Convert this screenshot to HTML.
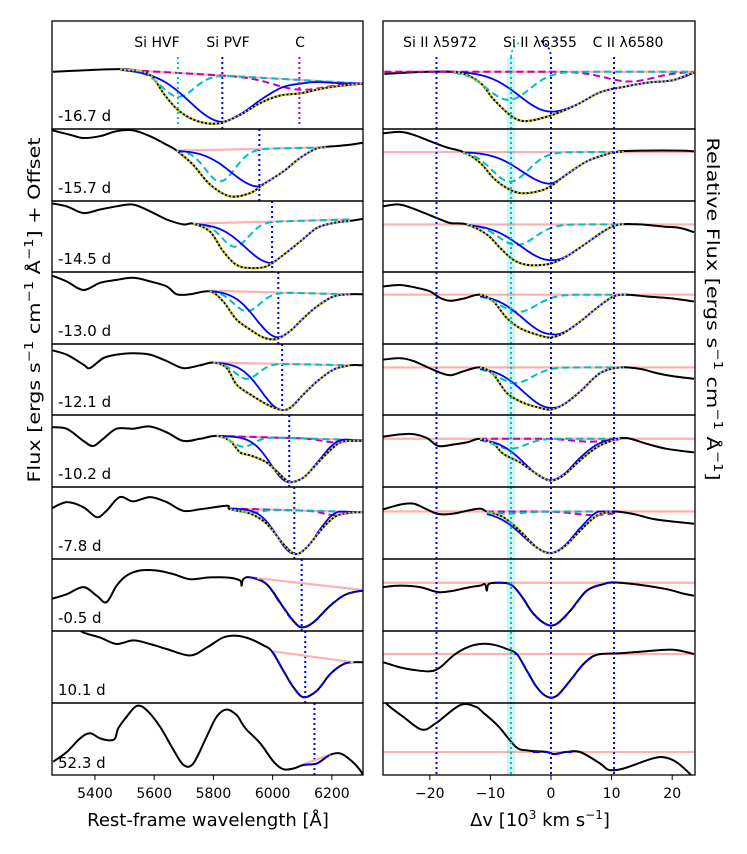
<!DOCTYPE html>
<html><head><meta charset="utf-8">
<style>
html,body{margin:0;padding:0;background:#fff;}
svg{display:block;font-family:"DejaVu Sans","Liberation Sans",sans-serif;}
</style></head>
<body>
<svg id="fig" width="747" height="854" viewBox="0 0 747 854" xmlns="http://www.w3.org/2000/svg">
<defs id="defs"></defs>
<g id="content"></g>
<text transform="translate(40,310) rotate(-90)" text-anchor="middle" font-size="17" textLength="345" lengthAdjust="spacingAndGlyphs">Flux [ergs s<tspan dy="-7" font-size="12">−1</tspan><tspan dy="7"> cm</tspan><tspan dy="-7" font-size="12">−1</tspan><tspan dy="7"> Å</tspan><tspan dy="-7" font-size="12">−1</tspan><tspan dy="7">] + Offset</tspan></text>
<text transform="translate(707,309) rotate(90)" text-anchor="middle" font-size="17" textLength="343" lengthAdjust="spacingAndGlyphs">Relative Flux [ergs s<tspan dy="-7" font-size="12">−1</tspan><tspan dy="7"> cm</tspan><tspan dy="-7" font-size="12">−1</tspan><tspan dy="7"> Å</tspan><tspan dy="-7" font-size="12">−1</tspan><tspan dy="7">]</tspan></text>
<text x="208" y="826" text-anchor="middle" font-size="18">Rest-frame wavelength [Å]</text>
<text x="540" y="826" text-anchor="middle" font-size="18">Δv [10<tspan dy="-7" font-size="12">3</tspan><tspan dy="7"> km s</tspan><tspan dy="-7" font-size="12">−1</tspan><tspan dy="7">]</tspan></text>
<text x="157" y="47" text-anchor="middle" font-size="14">Si HVF</text>
<text x="228" y="47" text-anchor="middle" font-size="14">Si PVF</text>
<text x="300" y="47" text-anchor="middle" font-size="14">C</text>
<text x="440" y="47" text-anchor="middle" font-size="14">Si II λ5972</text>
<text x="540" y="47" text-anchor="middle" font-size="14">Si II λ6355</text>
<text x="628" y="47" text-anchor="middle" font-size="14">C II λ6580</text>
</svg>
<script>
const epochs = ["-16.7 d","-15.7 d","-14.5 d","-13.0 d","-12.1 d","-10.2 d","-7.8 d","-0.5 d","10.1 d","52.3 d"];
const leftTicks = [5400,5600,5800,6000,6200];
const rightTicks = [-20,-10,0,10,20];
const refVel = [-18.9,0,10.4];
const hvfVel = -6.6;
const leftWave = [
[5258,5417,5518,5586,5637,5687,5755,5823,5890,5958,6025,6093,6160,6228,6306],
[5248,5316,5361,5417,5473,5529,5586,5642,5676,5732,5788,5856,5924,5968,6036,6093,6149,6205,6261,6306],
[5248,5304,5361,5417,5473,5529,5586,5642,5698,5732,5788,5833,5878,5924,5980,6036,6093,6149,6205,6261,6306],
[5248,5304,5361,5417,5473,5529,5586,5642,5676,5721,5788,5833,5878,5924,5969,6014,6059,6104,6149,6205,6261,6306],
[5248,5304,5361,5383,5428,5473,5529,5586,5642,5698,5755,5800,5845,5878,5924,5980,6025,6059,6104,6149,6205,6261,6306],
[5248,5304,5361,5394,5428,5473,5529,5586,5642,5698,5755,5811,5856,5890,5924,5980,6036,6059,6104,6149,6205,6239,6306],
[5248,5304,5361,5406,5439,5484,5529,5586,5642,5698,5755,5845,5856,5924,5980,6036,6076,6115,6171,6216,6261,6306],
[5248,5304,5361,5406,5439,5473,5507,5552,5608,5665,5721,5788,5856,5890,5895,5901,5924,5980,6036,6070,6098,6137,6194,6239,6273,6306],
[5315,5361,5417,5473,5529,5586,5642,5721,5777,5833,5878,5924,5969,5997,6036,6070,6104,6149,6194,6239,6273,6306],
[5259,5305,5350,5383,5417,5451,5468,5479,5507,5541,5575,5620,5665,5699,5732,5777,5811,5845,5879,5896,5913,5958,6003,6036,6070,6104,6149,6194,6228,6262,6295,6310]];
const leftFlux = [
[.53,.55,.55,.50,.31,.16,.065,.055,.13,.24,.31,.33,.37,.40,.42],
[.99,.92,.875,.90,.97,.98,.90,.78,.70,.50,.23,.065,.11,.23,.41,.60,.73,.76,.78,.81],
[.97,.925,.83,.88,.925,.95,.855,.74,.67,.68,.57,.29,.10,.056,.08,.24,.43,.62,.69,.72,.75],
[.96,.87,.75,.85,.89,.92,.87,.80,.69,.69,.73,.59,.34,.20,.09,.07,.18,.36,.52,.66,.69,.69],
[.92,.85,.71,.66,.80,.85,.87,.85,.76,.66,.70,.74,.66,.43,.29,.15,.075,.10,.29,.47,.64,.70,.70],
[.83,.81,.64,.57,.67,.81,.81,.84,.76,.64,.67,.71,.64,.48,.44,.34,.13,.065,.13,.32,.55,.63,.64],
[.69,.79,.72,.58,.67,.86,.80,.86,.79,.67,.69,.74,.69,.63,.49,.21,.07,.16,.44,.60,.64,.65],
[.44,.51,.61,.49,.40,.63,.77,.84,.84,.79,.72,.745,.74,.70,.63,.72,.745,.65,.33,.14,.05,.12,.35,.49,.54,.56],
[1.1,.98,.91,.82,.87,.82,.75,.66,.77,.91,.935,.89,.80,.72,.45,.22,.08,.17,.40,.54,.565,.565],
[.185,.32,.51,.58,.51,.48,.51,.65,.81,.96,.90,.67,.35,.14,.16,.53,.81,.91,.83,.72,.625,.44,.185,.08,.09,.14,.16,.28,.30,.21,.07,-.05]];
const rightVel = [
[-27.5,-20,-15.0,-11.7,-9.4,-6.3,-3.8,0.2,4.1,8.1,12.0,16.0,20.0,23.6],
[-27.65,-24.9,-22.7,-19.95,-17.2,-14.45,-11.7,-9.5,-7.3,-5.1,-2.35,-0.15,2.6,5.9,9.2,11.4,15.8,21.3,23.6],
[-27.65,-24.9,-21.6,-18.85,-16.65,-13.9,-10.6,-8.4,-6.2,-4.0,-1.25,0.4,2.6,5.9,9.2,11.4,14.7,18.55,21.3,23.6],
[-27.65,-24.9,-22.15,-19.95,-18.3,-16.65,-14.45,-11.7,-9.5,-7.3,-5.1,-2.35,-0.15,2.05,4.8,7.55,10.3,12.5,15.8,20.2,23.6],
[-27.65,-24.9,-22.7,-18.85,-16.65,-14.45,-11.7,-9.5,-7.3,-4.55,-1.8,-0.15,2.05,4.8,8.1,11.4,14.7,17.45,20.2,23.6],
[-27.65,-24.9,-22.7,-20.5,-18.6,-16.1,-13.9,-11.7,-9.5,-7.85,-5.1,-2.35,-0.15,2.05,4.8,7.55,10.3,12.5,15.8,19.1,23.6],
[-27.65,-24.9,-22.7,-20.5,-18.6,-16.1,-13.9,-11.7,-10.6,-7.85,-5.1,-2.35,-0.15,2.05,4.8,7.55,10.3,13.6,16.9,20.2,23.6],
[-27.65,-24.9,-21.6,-18.6,-16.1,-13.35,-11.7,-10.9,-10.6,-10.3,-8.95,-6.75,-5.1,-2.9,-0.7,0.95,3.15,5.9,8.65,10.3,14.7,19.1,21.85,23.6],
[-27.65,-24.9,-22.7,-19.95,-18.3,-16.1,-13.9,-11.7,-9.5,-7.3,-5.65,-4.0,-2.35,-0.7,0.95,3.15,5.35,7.55,11.4,15.8,20.2,23.6],
[-27.6,-26.9,-24.4,-21.3,-19.0,-15.0,-12.5,-11.1,-8.6,-5.8,-3.8,-0.7,0.5,2.5,4.8,8.1,9.6,12.0,16.0,18.3,20.6,23.1,24]];
const rightFlux = [
[.51,.53,.52,.43,.27,.11,.074,.13,.22,.34,.39,.43,.45,.52],
[.94,.96,.92,.83,.745,.68,.53,.32,.18,.11,.13,.20,.37,.55,.65,.69,.70,.70,.69],
[.925,.95,.855,.76,.69,.67,.53,.34,.17,.10,.10,.13,.22,.41,.60,.67,.67,.64,.62,.56],
[.80,.82,.78,.73,.64,.60,.63,.685,.59,.36,.22,.13,.09,.15,.31,.50,.66,.685,.66,.63,.59],
[.78,.80,.76,.615,.56,.615,.67,.57,.31,.17,.10,.075,.145,.33,.59,.67,.65,.59,.545,.51],
[.70,.73,.735,.68,.57,.59,.62,.67,.60,.46,.34,.18,.09,.16,.37,.55,.65,.68,.60,.53,.48],
[.69,.755,.77,.69,.625,.63,.67,.70,.66,.58,.39,.16,.08,.16,.39,.60,.66,.625,.555,.52,.49],
[.61,.63,.61,.54,.56,.61,.63,.65,.56,.65,.67,.65,.51,.24,.09,.10,.28,.56,.65,.675,.64,.58,.52,.49],
[.565,.495,.46,.44,.495,.66,.77,.82,.81,.75,.68,.45,.22,.09,.10,.31,.54,.67,.69,.72,.74,.68],
[1.05,.97,.81,.63,.72,.97,.95,.86,.67,.39,.34,.32,.29,.32,.32,.16,.07,.09,.21,.25,.185,.0,-.1]];
/* left fit: continuum [w0,f0,w1,f1], components [center, depth, sigma] */
const leftCont = [[5485,.55,6306,.42],[5676,.70,6180,.745],[5732,.68,6261,.74],[5788,.74,6261,.69],[5800,.74,6261,.70],[5811,.71,6306,.65],[5856,.70,6306,.65],[5924,.745,6306,.57],[5997,.72,6273,.565],[6104,.15,6194,.28]];
const leftHVF = [[5680,.22,55],[5823,.44,50],[5873,.34,45],[5912,.27,45],[5912,.22,40],[5901,.14,35],[5924,.05,35],null,null,null];
const leftC = [[6090,.09,85],null,null,null,null,[6205,.04,40],[6205,.05,35],null,null,null];
const leftMarker = [5830,5955,5998,6019,6032,6056,6073,6098,6110,6141];
const leftPVFSigma = [110,95,90,75,70,62,58,50,45,20];
const rightCont = [.53,.68,.67,.685,.67,.67,.66,.67,.68,.32];
const rightRange = [[-16,23.6],[-14.5,12],[-13.9,12],[-11.7,12.5],[-11.7,12],[-11.7,11.5],[-10.6,10.3],[-9,10.3],[-6,7],[-3,4]];
const rightHVF = [[-7,.26,3.5],[-6.75,.41,3],[-5.65,.29,3],[-5.4,.24,3],[-5.9,.22,2.8],[-6.75,.14,2.5],[-7,.03,2.5],null,null,null];
const rightC = [[13,.09,4],null,null,null,null,[6.4,.04,3],[7,.05,3],null,null,null];
const rightPVFSigma = [5.2,4.8,5.0,4.6,4.5,4.3,4.5,4,3.8,2];

const NS = "http://www.w3.org/2000/svg";
const LX0 = 52, LX1 = 363, RX0 = 383, RX1 = 695;
const rowY = [21,129,201,272,344,415,487,559,631,703,775];
const lxScale = w => LX0 + (w - 5255) * (LX1 - LX0) / (6305 - 5255);
const rxScale = v => 551 + v * 6.06;
const yScale = (i, f) => rowY[i+1] - f * (rowY[i+1] - rowY[i]);
const content = document.getElementById("content");
const defs = document.getElementById("defs");

function mk(tag, attrs, parent) {
  const e = document.createElementNS(NS, tag);
  for (const k in attrs) e.setAttribute(k, attrs[k]);
  (parent || content).appendChild(e);
  return e;
}
function smooth(pts) {
  if (pts.length < 2) return "";
  let d = "M" + pts[0][0].toFixed(1) + "," + pts[0][1].toFixed(1);
  for (let i = 0; i < pts.length - 1; i++) {
    const p0 = pts[Math.max(0, i-1)], p1 = pts[i], p2 = pts[i+1], p3 = pts[Math.min(pts.length-1, i+2)];
    const c1x = p1[0] + (p2[0]-p0[0])/6, c1y = p1[1] + (p2[1]-p0[1])/6;
    const c2x = p2[0] - (p3[0]-p1[0])/6, c2y = p2[1] - (p3[1]-p1[1])/6;
    d += "C" + c1x.toFixed(1) + "," + c1y.toFixed(1) + " " + c2x.toFixed(1) + "," + c2y.toFixed(1) + " " + p2[0].toFixed(1) + "," + p2[1].toFixed(1);
  }
  return d;
}
function gauss(x, c) { return c ? c[1] * Math.exp(-((x - c[0]) ** 2) / (2 * c[2] * c[2])) : 0; }
function curve(x0, x1, fn, xs, i, n) {
  const pts = [];
  for (let k = 0; k <= n; k++) { const x = x0 + (x1 - x0) * k / n; pts.push([xs(x), yScale(i, fn(x))]); }
  return pts;
}
function line(pts) { return "M" + pts.map(p => p[0].toFixed(1) + "," + p[1].toFixed(1)).join("L"); }
function sampler(xsArr, ysArr) {
  return x => {
    let k = 0;
    while (k < xsArr.length - 2 && x > xsArr[k+1]) k++;
    const x1 = xsArr[k], x2 = xsArr[k+1];
    const t = Math.max(0, Math.min(1, (x - x1) / (x2 - x1)));
    const y0 = ysArr[Math.max(0,k-1)], y1 = ysArr[k], y2 = ysArr[k+1], y3 = ysArr[Math.min(ysArr.length-1,k+2)];
    return 0.5*((2*y1) + (-y0+y2)*t + (2*y0-5*y1+4*y2-y3)*t*t + (-y0+3*y1-3*y2+y3)*t*t*t);
  };
}

function drawFit(g, i, x0, x1, contF, hvf, cc, dataF, xs, full, center, sigma) {
  const N = 100;
  const dep = contF(center) - (dataF(center) + gauss(center, hvf) + gauss(center, cc));
  const pvfF = x => x < center ? contF(x) - dep * Math.exp(-((x-center)**2)/(2*sigma*sigma))
                                : Math.min(contF(x), dataF(x) + gauss(x, hvf) + gauss(x, cc));
  if (full) {
    if (cc) {
      const c = mk("path", {d: line(curve(x0, x1, x => contF(x) - gauss(x, cc), xs, i, N)), stroke: "#bf00bf", "stroke-width": 2, "stroke-dasharray": "7,4", fill: "none"}, g);
      
      
    }
    if (hvf) {
      const h = mk("path", {d: line(curve(x0, x1, x => contF(x) - gauss(x, hvf), xs, i, N)), stroke: "#00bfbf", "stroke-width": 2, "stroke-dasharray": "7,4", fill: "none"}, g);
      
      
    }
    const p = mk("path", {d: line(curve(x0, x1, pvfF, xs, i, N)), stroke: "#0000ff", "stroke-width": 1.8, fill: "none"}, g);
    
    
    const f = mk("path", {d: line(curve(x0, x1, x => Math.min(contF(x), dataF(x)), xs, i, N)), stroke: "#d0d000", "stroke-width": 2, "stroke-dasharray": "2,2", fill: "none"}, g);
    
    
  } else {
    const p = mk("path", {d: line(curve(x0, x1, x => Math.min(contF(x), dataF(x)), xs, i, N)), stroke: "#0000ff", "stroke-width": 2, "stroke-dasharray": "7,4", fill: "none"}, g);
    
    
  }
}

for (let i = 0; i < 10; i++) {
  ["L","R"].forEach(side => {
    const cp = mk("clipPath", {id: "clip" + side + i}, defs);
    mk("rect", {x: side === "L" ? LX0 : RX0, y: rowY[i], width: side === "L" ? LX1-LX0 : RX1-RX0, height: rowY[i+1]-rowY[i]}, cp);
  });
  // ---------- left panel ----------
  const gl = mk("g", {"clip-path": "url(#clipL" + i + ")"});
  
  
  const m = leftMarker[i];
  const mTop = i === 0 ? 57 : rowY[i];
  const mv = mk("line", {x1: lxScale(m), x2: lxScale(m), y1: mTop, y2: rowY[i+1], stroke: "#0000ff", "stroke-width": 2, "stroke-dasharray": "2,3"}, gl);
  
  
  const sp = mk("path", {d: smooth(leftWave[i].map((w, k) => [lxScale(w), yScale(i, leftFlux[i][k])])), fill: "none", stroke: "#000", "stroke-width": 2}, gl);
  
  
  const lc = leftCont[i];
  const contF = w => lc[1] + (lc[3]-lc[1]) * (w - lc[0]) / (lc[2]-lc[0]);
  const cl = mk("path", {d: line([[lxScale(lc[0]), yScale(i, lc[1])], [lxScale(lc[2]), yScale(i, lc[3])]]), stroke: "#ffb0b0", "stroke-width": 2.2, fill: "none"}, gl);
  
  
  drawFit(gl, i, lc[0], lc[2], contF, leftHVF[i], leftC[i], sampler(leftWave[i], leftFlux[i]), lxScale, i < 7, leftMarker[i], leftPVFSigma[i]);
  if (i === 0) {
    const hv = mk("line", {x1: lxScale(5680), x2: lxScale(5680), y1: 57, y2: 127, stroke: "#00bfbf", "stroke-width": 2, "stroke-dasharray": "2,3"}, gl);
    
    
    const cv = mk("line", {x1: lxScale(6090), x2: lxScale(6090), y1: 57, y2: 127, stroke: "#bf00bf", "stroke-width": 2, "stroke-dasharray": "2,3"}, gl);
    
    
  }
  const lb = mk("text", {x: 58, y: rowY[i+1] - (i === 9 ? 7 : 8), "font-size": 15});
  lb.textContent = epochs[i];
  
  

  // ---------- right panel ----------
  const gr = mk("g", {"clip-path": "url(#clipR" + i + ")"});
  
  
  const rc = rightCont[i];
  const rcl = mk("line", {x1: RX0, x2: RX1, y1: yScale(i, rc), y2: yScale(i, rc), stroke: "#ffb0b0", "stroke-width": 2.2}, gr);
  
  
  const rsp = mk("path", {d: smooth(rightVel[i].map((v, k) => [rxScale(v), yScale(i, rightFlux[i][k])])), fill: "none", stroke: "#000", "stroke-width": 2}, gr);
  
  
  const rr = rightRange[i];
  if (i === 0) {
    const cc = mk("path", {d: line(curve(-27.5, 23.6, v => rc - gauss(v, rightC[0]), rxScale, 0, 90)), stroke: "#bf00bf", "stroke-width": 2, "stroke-dasharray": "7,4", fill: "none"}, gr);
    
    
  }
  drawFit(gr, i, rr[0], rr[1], () => rc, rightHVF[i], i === 0 ? null : rightC[i], sampler(rightVel[i], rightFlux[i]), rxScale, i < 7, 0, rightPVFSigma[i]);
}
// right-panel reference lines across all rows
const band = mk("rect", {x: rxScale(hvfVel - 0.7), y: 57, width: rxScale(hvfVel + 0.7) - rxScale(hvfVel - 0.7), height: 775 - 57, fill: "#00bfbf", opacity: 0.18});


const hvl = mk("line", {x1: rxScale(hvfVel), x2: rxScale(hvfVel), y1: 57, y2: 775, stroke: "#00bfbf", "stroke-width": 2, "stroke-dasharray": "2,3"});


refVel.forEach(v => {
  const l = mk("line", {x1: rxScale(v), x2: rxScale(v), y1: 57, y2: 775, stroke: "#0000ff", "stroke-width": 2, "stroke-dasharray": "2,3"});
  
  
});
const arc1 = mk("path", {d: "M" + rxScale(hvfVel) + ",57 Q" + (rxScale(hvfVel)+1) + ",46 " + (rxScale(hvfVel)+8) + ",43", stroke: "#00bfbf", "stroke-width": 1.8, "stroke-dasharray": "2,3", fill: "none"});


const arc2 = mk("path", {d: "M541,41 Q550,45 551,57", stroke: "#0000ff", "stroke-width": 1.8, "stroke-dasharray": "2,3", fill: "none"});


// frames
for (let i = 0; i < 10; i++) {
  [[LX0, LX1], [RX0, RX1]].forEach(([a, b]) => {
    const r = mk("rect", {x: a, y: rowY[i], width: b - a, height: rowY[i+1] - rowY[i], fill: "none", stroke: "#000", "stroke-width": 1.3});
    
    
  });
}
leftTicks.forEach(t => {
  const x = lxScale(t);
  const tk = mk("line", {x1: x, x2: x, y1: 775, y2: 780, stroke: "#000", "stroke-width": 1});
  
  
  const tl = mk("text", {x: x, y: 798, "text-anchor": "middle", "font-size": 14});
  tl.textContent = t;
  
  
});
rightTicks.forEach(t => {
  const x = rxScale(t);
  const tk = mk("line", {x1: x, x2: x, y1: 775, y2: 780, stroke: "#000", "stroke-width": 1});
  
  
  const tl = mk("text", {x: x, y: 798, "text-anchor": "middle", "font-size": 14});
  tl.textContent = t < 0 ? "−" + Math.abs(t) : String(t);
  
  
});
</script>
</body></html>
